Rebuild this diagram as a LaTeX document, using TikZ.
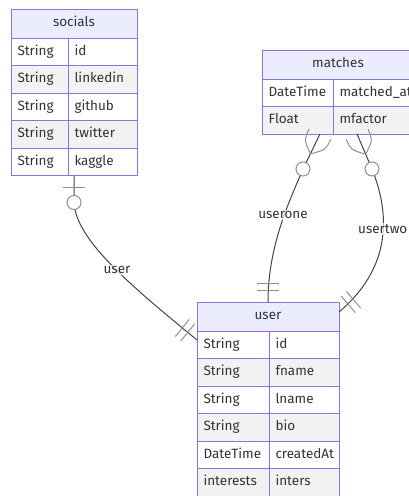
\documentclass[tikz,border=0pt]{standalone}
\usepackage{fontspec}
\setmainfont{Fira Sans}
\usetikzlibrary{positioning,calc}
\definecolor{tblborder}{HTML}{9370DB}
\definecolor{hdrfill}{HTML}{ECECFF}
\definecolor{rowgray}{HTML}{F2F2F2}
\definecolor{txtgray}{HTML}{333333}
\definecolor{markgray}{HTML}{909090}
\definecolor{edgegray}{HTML}{444444}
\tikzstyle{hdr}=[rectangle,draw=tblborder,fill=hdrfill,line width=1pt,minimum height=29pt,inner sep=0pt,outer sep=0pt,text=txtgray,text height=9.5pt,text depth=3pt]
\tikzstyle{cell}=[rectangle,draw=tblborder,line width=1pt,minimum height=27.5pt,inner xsep=6.5pt,inner ysep=0pt,outer sep=0pt,text=txtgray,align=left,text height=9.5pt,text depth=3pt]
\tikzstyle{odd}=[cell,fill=white]
\tikzstyle{even}=[cell,fill=rowgray]
\tikzstyle{socT}=[text width=44pt]
\tikzstyle{socN}=[text width=56pt]
\tikzstyle{matT}=[text width=58pt]
\tikzstyle{matN}=[text width=69pt]
\tikzstyle{usrT}=[text width=59pt]
\tikzstyle{usrN}=[text width=57pt]
\tikzstyle{rel}=[draw=edgegray,line width=1pt]
\tikzstyle{markline}=[draw=markgray,line width=1pt]
\tikzstyle{zcirc}=[circle,draw=markgray,fill=white,line width=1pt,minimum size=14pt,inner sep=0pt]
\tikzstyle{rlabel}=[fill=white,fill opacity=0.7,text opacity=1,text=txtgray,inner sep=1pt]
% crow's foot (many) and bar (one) markers
\newcommand{\crowfoot}[2]{%
  \draw[markline] ($(#1)!12pt!90:(#2)$) .. controls ($(#1)!12pt!90:(#2)+(#1)!12pt!(#2)-(#1)$) .. ($(#1)!22pt!(#2)$);
  \draw[markline] ($(#1)!12pt!-90:(#2)$) .. controls ($(#1)!12pt!-90:(#2)+(#1)!12pt!(#2)-(#1)$) .. ($(#1)!22pt!(#2)$);}
\newcommand{\onebar}[3]{%
  \draw[markline] ($(#1)!#3!(#2)!11pt!90:(#2)$) -- ($(#1)!#3!(#2)!11pt!-90:(#2)$);}

\begin{document}
\begin{tikzpicture}[x=1pt,y=-1pt,font=\fontsize{13.5}{16}\selectfont]
\useasboundingbox (0,0) rectangle (409,496);
\clip (0,0) rectangle (409,496);

% socials
\node (soc) [hdr, minimum width=126pt] at (74,23.5) {socials};
\node (soc1t) [odd, socT, below right=0pt and 0pt of soc.south west] {String};
\node (soc1n) [odd, socN, right=0pt of soc1t] {id};
\node (soc2t) [even, socT, below=0pt of soc1t] {String};
\node (soc2n) [even, socN, right=0pt of soc2t] {linkedin};
\node (soc3t) [odd, socT, below=0pt of soc2t] {String};
\node (soc3n) [odd, socN, right=0pt of soc3t] {github};
\node (soc4t) [even, socT, below=0pt of soc3t] {String};
\node (soc4n) [even, socN, right=0pt of soc4t] {twitter};
\node (soc5t) [odd, socT, below=0pt of soc4t] {String};
\node (soc5n) [odd, socN, right=0pt of soc5t] {kaggle};

% matches
\node (mat) [hdr, minimum width=152pt] at (338,64.5) {matches};
\node (mat1t) [odd, matT, below right=0pt and 0pt of mat.south west] {DateTime};
\node (mat1n) [odd, matN, right=0pt of mat1t] {matched\_at};
\node (mat2t) [even, matT, below=0pt of mat1t] {Float};
\node (mat2n) [even, matN, right=0pt of mat2t] {mfactor};

% user
\node (user) [hdr, minimum width=142pt] at (268,316.5) {user};
\node (usr1t) [odd, usrT, below right=0pt and 0pt of user.south west] {String};
\node (usr1n) [odd, usrN, right=0pt of usr1t] {id};
\node (usr2t) [even, usrT, below=0pt of usr1t] {String};
\node (usr2n) [even, usrN, right=0pt of usr2t] {fname};
\node (usr3t) [odd, usrT, below=0pt of usr2t] {String};
\node (usr3n) [odd, usrN, right=0pt of usr3t] {lname};
\node (usr4t) [even, usrT, below=0pt of usr3t] {String};
\node (usr4n) [even, usrN, right=0pt of usr4t] {bio};
\node (usr5t) [odd, usrT, below=0pt of usr4t] {DateTime};
\node (usr5n) [odd, usrN, right=0pt of usr5t] {createdAt};
\node (usr6t) [even, usrT, below=0pt of usr5t] {interests};
\node (usr6n) [even, usrN, right=0pt of usr6t] {inters};

% end points
\coordinate (s1) at (soc.center |- soc5t.south);
\coordinate (z0) at ($(s1)+(0,27)$);
\coordinate (m1) at ($(mat2t.south west)+(58,0)$);
\coordinate (m2) at ($(mat2n.south west)+(24,0)$);
\coordinate (z1) at (303,169);
\coordinate (z2) at (372,169);
\coordinate (u0) at ($(user.south west)+(0,9)$);
\coordinate (u1) at (user.north);
\coordinate (u2) at ($(user.north east)+(0,10)$);

% relations
\draw[rel] (s1) -- (z0) .. controls (76,240) and (130,285) .. (u0);
\draw[rel] (m1) -- (z1) .. controls (290,200) and (268,245) .. (u1);
\draw[rel] (m2) -- (z2) .. controls (386,204) and (398,262) .. (u2);

\onebar{s1}{z0}{12pt}
\crowfoot{m1}{z1}
\crowfoot{m2}{z2}
\onebar{u0}{130,285}{12pt}
\onebar{u0}{130,285}{19pt}
\onebar{u1}{268,245}{12pt}
\onebar{u1}{268,245}{19pt}
\onebar{u2}{398,262}{12pt}
\onebar{u2}{398,262}{19pt}

\node (c0) [zcirc] at (z0) {};
\node (c1) [zcirc] at (z1) {};
\node (c2) [zcirc] at (z2) {};

\node (lbl0) [rlabel] at (117,270) {user};
\node (lbl1) [rlabel] at (283,215) {userone};
\node (lbl2) [rlabel, anchor=west] at (357,229) {usertwo};

\end{tikzpicture}
\end{document}
